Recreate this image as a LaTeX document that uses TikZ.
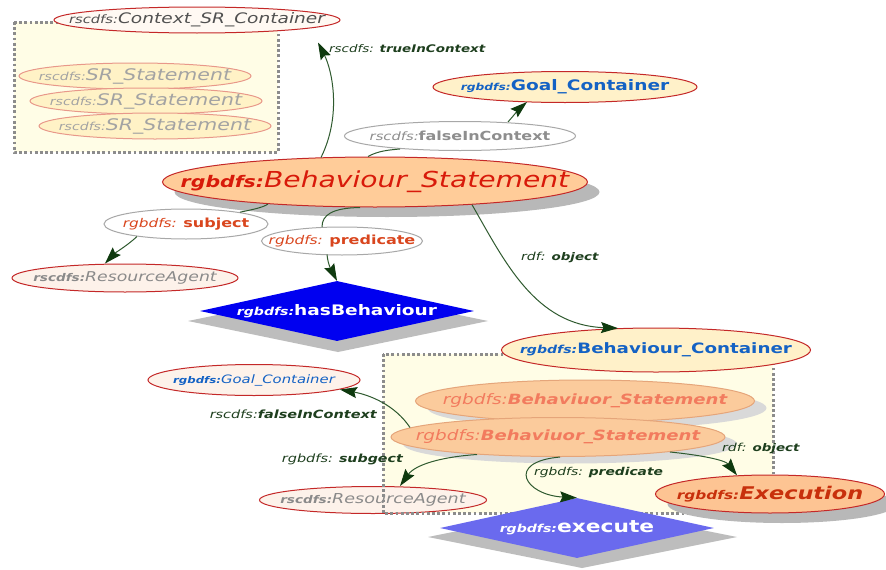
\documentclass[tikz,border=0pt]{standalone}
\usepackage{fontspec}
\setmainfont{DejaVu Sans}[FakeStretch=1.28,ItalicFont={DejaVu Sans Oblique},BoldFont={DejaVu Sans Bold},BoldItalicFont={DejaVu Sans Bold Oblique}]
\usetikzlibrary{shapes.geometric,arrows.meta,shadows}
\definecolor{ctxfill}{HTML}{FFF9F3}
\definecolor{nodered}{HTML}{C42828}
\definecolor{ctxtext}{HTML}{505050}
\definecolor{srfill}{HTML}{FFF2C6}
\definecolor{srline}{HTML}{E8988A}
\definecolor{srtext}{HTML}{A3A3A3}
\definecolor{bsfill}{HTML}{FFCC99}
\definecolor{bstext}{HTML}{D81A0A}
\definecolor{gcfill}{HTML}{FFF1C9}
\definecolor{gcblue}{HTML}{1462C4}
\definecolor{lblgray}{HTML}{8E8E8E}
\definecolor{lblline}{HTML}{A8A8A8}
\definecolor{subred}{HTML}{D9461E}
\definecolor{rafill}{HTML}{FDF2EA}
\definecolor{ratext}{HTML}{8A8A8A}
\definecolor{hbblue}{HTML}{0000F0}
\definecolor{exblue}{HTML}{6A6AEE}
\definecolor{boxfill}{HTML}{FFFDE6}
\definecolor{boxc}{HTML}{8C8C8C}
\definecolor{bsbfill}{HTML}{FBCB9C}
\definecolor{bsbline}{HTML}{E5A57A}
\definecolor{bsbtext}{HTML}{F27B5E}
\definecolor{exnfill}{HTML}{FDC493}
\definecolor{exntext}{HTML}{C8300C}
\definecolor{edgec}{HTML}{2F5A2F}
\definecolor{tipc}{HTML}{0F3A0F}
\definecolor{lblc}{HTML}{1E3F1E}
\definecolor{shdgray}{HTML}{BDBDBD}
\newcommand\fsz[1]{\fontsize{#1}{#1}\selectfont}
\newcommand\txi[2]{{\fsz{#1}\itshape #2}}
\newcommand\txb[2]{{\fsz{#1}\bfseries\itshape #2}}
\newcommand\txu[2]{{\fsz{#1}\bfseries #2}}
\begin{document}
\begin{tikzpicture}[x=1pt,y=-1pt,
  ell/.style={ellipse,inner sep=0pt,line width=1pt},
  shd/.style={drop shadow={shadow xshift=12pt,shadow yshift=-10pt,fill=black!28,opacity=1}},
  shdl/.style={drop shadow={shadow xshift=12pt,shadow yshift=-7pt,fill=black!15,opacity=1}},
  srnode/.style={ell,draw=srline,fill=srfill,text=srtext,minimum width=232pt,minimum height=26pt},
  lblell/.style={ell,draw=lblline,fill=white},
  ranode/.style={ell,draw=nodered,fill=rafill,text=ratext},
  bsbnode/.style={ell,shdl,draw=bsbline,fill=bsbfill,text=bsbtext},
  edge/.style={draw=edgec,line width=1pt},
  arr/.style={edge,-{Stealth[length=17pt,width=11pt,inset=2.5pt,color=tipc]}},
  lbl/.style={inner sep=0pt,text=lblc},
  boxline/.style={draw=boxc,line width=3pt,dash pattern=on 2.8pt off 2.4pt}]
\useasboundingbox (0,0) rectangle (886,570);
\fill[white] (0,0) rectangle (886,570);

% ---- upper container
\fill[boxfill] (14,22) rectangle (278,152);
\draw[boxline] (14,22) rectangle (278,152);
\node[ell,draw=nodered,fill=ctxfill,text=ctxtext,minimum width=286pt,minimum height=26pt] (ctx) at (197,20)
  {\makebox[0pt]{\txi{11.5}{rscdfs:}\txi{14.5}{Context\_SR\_Container}}};
\node[srnode] (sr1) at (135,76) {\makebox[0pt]{\txi{11}{rscdfs:}\txi{16}{SR\_Statement}}};
\node[srnode] (sr2) at (146,101) {\makebox[0pt]{\txi{11}{rscdfs:}\txi{16}{SR\_Statement}}};
\node[srnode] (sr3) at (155,126) {\makebox[0pt]{\txi{11}{rscdfs:}\txi{16}{SR\_Statement}}};

% ---- main statement
\node[ell,shd,draw=nodered,fill=bsfill,text=bstext,minimum width=425pt,minimum height=50pt] (bs) at (375,182)
  {\makebox[0pt]{\txb{16}{rgbdfs:}\txi{22}{Behaviour\_Statement}}};
\node[lblell,text=lblgray,minimum width=231pt,minimum height=29pt] (fl1) at (460,136)
  {\makebox[0pt]{\txi{11.5}{rscdfs:}\txu{12.5}{falseInContext}}};
\node[ell,draw=nodered,fill=gcfill,text=gcblue,minimum width=264pt,minimum height=31pt] (gc1) at (565,87)
  {\makebox[0pt]{\txb{9.6}{rgbdfs:}\txu{14.5}{Goal\_Container}}};
\node[lblell,text=subred,minimum width=164pt,minimum height=30pt] (sub) at (186,224)
  {\makebox[0pt]{\txi{12}{rgbdfs: }\txu{12.5}{subject}}};
\node[lblell,text=subred,minimum width=161pt,minimum height=28pt] (pred) at (342,241)
  {\makebox[0pt]{\txi{12}{rgbdfs: }\txu{12.5}{predicate}}};
\node[ranode,minimum width=226pt,minimum height=28pt] (ra1) at (125,278)
  {\makebox[0pt]{\txb{10.6}{rscdfs:}\txi{13.5}{ResourceAgent}}};
\fill[shdgray] (188,321) -- (338,290) -- (488,321) -- (338,352) -- cycle;
\node[diamond,fill=hbblue,minimum width=274pt,minimum height=60pt,inner sep=0pt,text=white] (hb) at (337,311)
  {\makebox[0pt]{\txb{11}{rgbdfs:}\txu{14.5}{hasBehaviour}}};

% ---- lower container
\fill[boxfill] (383,354) rectangle (773,513);
\node[ranode,minimum width=227pt,minimum height=27pt] (ra2) at (373,500)
  {\makebox[0pt]{\txb{10.6}{rscdfs:}\txi{13.7}{ResourceAgent}}};
\node[ranode,text=gcblue,minimum width=212pt,minimum height=31pt] (gc2) at (254,380)
  {\makebox[0pt]{\txb{9.2}{rgbdfs:}\txi{11.6}{Goal\_Container}}};
\draw[boxline] (383,354) rectangle (773,513);
\node[ell,draw=nodered,fill=gcfill,text=gcblue,minimum width=309pt,minimum height=44pt] (bc) at (656,350)
  {\makebox[0pt]{\txb{11}{rgbdfs:}\txu{14.3}{Behaviour\_Container}}};
\node[bsbnode,minimum width=339pt,minimum height=42pt] (bsb1) at (585,401)
  {\makebox[0pt]{\txi{14.4}{rgbdfs:}\txb{14.1}{Behaviuor\_Statement}}};
\node[bsbnode,minimum width=334pt,minimum height=39pt] (bsb2) at (558,437)
  {\makebox[0pt]{\txi{14.4}{rgbdfs:}\txb{14.1}{Behaviuor\_Statement}}};
\fill[shdgray] (428,537) -- (582,506) -- (737,537) -- (582,568) -- cycle;
\node[diamond,fill=exblue,minimum width=274pt,minimum height=60pt,inner sep=0pt,text=white] (ex) at (577,528)
  {\makebox[0pt]{\txb{11}{rgbdfs:}\txu{17}{execute}}};
\node[ell,shd,draw=nodered,fill=exnfill,text=exntext,minimum width=229pt,minimum height=38pt] (exn) at (770,494)
  {\makebox[0pt]{\txb{12}{rgbdfs:}\txb{17.5}{Execution}}};

% ---- connectors (upper)
\draw[arr] ([xshift=-54pt,yshift=-1pt]bs.north) .. controls (342,115) and (332,70) .. ([xshift=121pt,yshift=-9pt]ctx.south);
\draw[edge] ([xshift=-7pt]bs.north) .. controls (378,151) and (388,150) .. ([xshift=-60pt,yshift=2pt]fl1.south);
\draw[arr] ([xshift=48pt,yshift=-1pt]fl1.north) .. controls (514,115) and (520,108) .. ([xshift=-38pt,yshift=1pt]gc1.south);
\draw[edge] ([xshift=-107pt,yshift=3.4pt]bs.south) .. controls (262,208) and (250,210) .. ([xshift=54pt,yshift=-3.7pt]sub.north);
\draw[arr] ([xshift=-49pt,yshift=3pt]sub.south) .. controls (128,245) and (115,253) .. ([xshift=-20pt]ra1.north);
\draw[edge] ([xshift=-15pt]bs.south) .. controls (332,208) and (322,215) .. ([xshift=-20pt,yshift=-0.5pt]pred.north);
\draw[arr] ([xshift=-15pt,yshift=1pt]pred.south) .. controls (328,266) and (333,273) .. (hb.north);
\draw[arr] ([xshift=97pt,yshift=2.8pt]bs.south) .. controls (505,262) and (535,325) .. ([xshift=-38pt,yshift=-0.7pt]bc.north);

% ---- connectors (lower)
\draw[arr] ([xshift=-148pt,yshift=-10.5pt]bsb2.north) .. controls (395,405) and (370,395) .. ([xshift=86pt,yshift=6.5pt]gc2.south);
\draw[arr] ([xshift=-81pt,yshift=2.5pt]bsb2.south) .. controls (440,457) and (415,465) .. ([xshift=27pt]ra2.north);
\draw[arr] ([xshift=2pt]bsb2.south) .. controls (505,462) and (525,495) .. (ex.north);
\draw[arr] ([xshift=112pt,yshift=5pt]bsb2.south) .. controls (700,455) and (725,460) .. ([xshift=-33pt,yshift=-0.8pt]exn.north);

% ---- edge labels
\node[lbl,anchor=west] (l1) at (329,49) {\txi{10.5}{rscdfs: }\txb{10.5}{trueInContext}};
\node[lbl,anchor=west] (l2) at (521,257) {\txi{11}{rdf: }\txb{10.5}{object}};
\node[lbl,anchor=east] (l3) at (377,414) {\txi{11.3}{rscdfs:}\txb{11.3}{falseInContext}};
\node[lbl,anchor=east] (l4) at (403,459) {\txi{11.3}{rgbdfs: }\txb{11.1}{subgect}};
\node[lbl,anchor=west] (l5) at (534,473) {\txi{10.8}{rgbdfs: }\txb{10.8}{predicate}};
\node[lbl,anchor=west] (l6) at (722,448) {\txi{11}{rdf: }\txb{10.5}{object}};
\end{tikzpicture}
\end{document}
